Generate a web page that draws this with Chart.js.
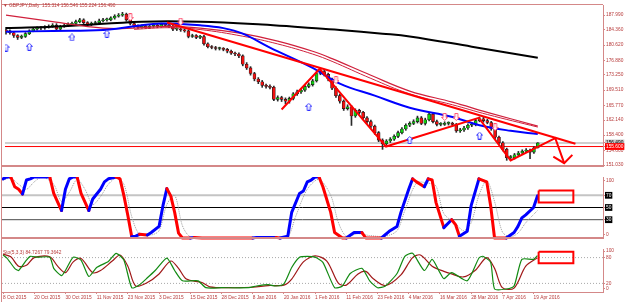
<!DOCTYPE html>
<html>
<head>
<meta charset="utf-8">
<title>GBPJPY Daily</title>
<script src="https://cdn.jsdelivr.net/npm/chart.js@4.4.1/dist/chart.umd.min.js"></script>
<style>
  body { margin: 0; background: #fff; }
  #wrap { position: relative; width: 625px; height: 302px; overflow: hidden; }
  canvas { position: absolute; left: 0; }
</style>
</head>
<body>
<div id="wrap">
  <canvas id="mainChart" width="625" height="177" style="top:0"></canvas>
  <canvas id="stochChart" width="625" height="71" style="top:177px"></canvas>
  <canvas id="stoChart" width="625" height="54" style="top:248px"></canvas>
</div>
<script>
// Data (bar index 0 = 8 Oct 2015, one bar per trading day)
const dateLabels = ['8 Oct 2015', '20 Oct 2015', '30 Oct 2015', '11 Nov 2015', '23 Nov 2015', '3 Dec 2015',
  '15 Dec 2015', '28 Dec 2015', '8 Jan 2016', '20 Jan 2016', '1 Feb 2016', '11 Feb 2016', '23 Feb 2016',
  '4 Mar 2016', '16 Mar 2016', '28 Mar 2016', '7 Apr 2016', '19 Apr 2016'];
const labelIdx = [0, 8, 16, 24, 32, 40, 48, 56, 64, 72, 80, 88, 96, 104, 112, 120, 128, 136];

const opens = [
  184.40,184.11,183.66,182.97,182.52,182.74,183.43,184.11,184.57,184.80,
  184.80,185.02,185.25,185.48,184.57,185.25,185.48,185.71,185.94,186.39,
  186.85,186.17,185.71,185.94,186.17,186.62,186.85,186.85,187.31,187.76,
  187.99,188.22,186.85,185.94,185.25,185.02,185.25,185.02,185.25,185.48,
  185.25,185.71,185.48,185.25,184.57,184.57,184.34,184.11,182.74,182.97,
  182.52,182.74,180.92,180.23,180.01,179.78,179.78,179.55,179.09,178.64,
  178.41,177.95,175.90,174.99,173.62,172.25,171.57,170.65,170.43,170.20,
  167.23,167.69,167.23,166.78,167.46,168.60,169.06,169.51,170.43,170.88,
  171.79,173.62,174.08,173.39,172.25,169.97,168.14,166.78,164.95,165.41,
  163.13,164.50,164.04,162.67,161.76,160.62,159.02,157.20,156.28,156.97,
  157.42,158.11,159.02,159.93,160.85,161.30,161.76,162.67,161.30,162.21,
  163.58,161.76,161.07,161.07,161.30,161.30,161.07,159.48,159.70,160.16,
  160.85,161.07,161.99,162.44,161.99,161.53,159.93,157.88,156.51,154.91,
  152.86,152.86,153.55,154.00,154.46,154.69,154.23,155.314];
const highs = [
  185.0,184.4,183.9,183.2,183.1,183.7,184.4,184.9,185.1,185.2,
  185.4,185.6,185.9,185.9,185.5,185.8,186.1,186.3,186.8,187.2,
  187.1,186.4,186.3,186.5,187.0,187.2,187.3,187.6,188.1,188.4,
  188.7,188.5,187.1,186.2,185.6,185.6,185.5,185.6,185.8,185.8,
  186.0,186.0,185.8,185.6,184.9,184.8,184.6,184.3,183.3,183.2,
  183.0,183.0,181.2,180.5,180.3,180.1,180.0,179.8,179.4,178.9,
  178.7,178.2,176.3,175.3,173.9,172.6,171.9,171.0,170.8,170.5,
  168.1,168.0,167.6,167.8,168.9,169.5,169.9,170.8,171.3,172.2,
  174.0,174.9,174.5,173.7,172.5,170.3,168.5,167.1,165.9,165.7,
  164.9,164.8,164.3,163.0,162.1,160.9,159.3,157.5,157.3,157.8,
  158.5,159.4,160.3,161.2,161.7,162.2,163.1,163.0,162.6,164.0,
  163.9,162.1,161.5,161.7,161.7,161.6,161.3,160.1,160.6,161.2,
  161.5,162.4,162.9,162.8,162.3,161.8,160.2,158.2,156.8,155.2,
  153.4,153.9,154.4,154.8,155.1,155.0,155.6,156.546];
const lows = [
  183.3,183.3,182.5,182.0,182.2,182.5,183.2,183.9,184.3,184.4,
  184.5,184.8,185.0,184.2,184.3,185.0,185.2,185.4,185.6,186.1,
  185.9,185.3,185.4,185.7,185.9,186.3,186.5,186.6,187.0,187.5,
  187.7,186.5,185.6,185.0,184.7,184.8,184.7,184.7,185.0,184.9,
  185.0,185.2,184.9,184.2,184.2,184.0,183.8,182.4,182.5,182.2,
  182.2,180.6,179.9,179.7,179.4,179.4,179.2,178.7,178.3,178.0,
  177.5,175.5,174.6,173.2,171.8,171.1,170.2,170.0,169.8,166.9,
  166.8,166.7,166.1,166.3,167.1,168.2,168.7,169.2,170.1,170.5,
  171.5,173.3,173.0,171.8,169.6,167.7,166.3,164.5,164.6,160.8,
  162.8,163.6,162.3,161.3,160.2,158.6,156.8,154.9,155.9,156.6,
  157.1,157.8,158.7,159.6,160.5,161.0,161.4,161.0,160.9,161.9,
  161.4,160.7,160.7,160.8,160.9,160.7,159.1,159.1,159.3,159.8,
  160.5,160.7,161.7,161.6,161.2,159.6,157.5,156.1,154.5,152.2,
  152.3,152.5,153.2,153.7,154.1,152.6,153.9,155.224];
const closes = [
  184.11,183.66,182.97,182.52,182.74,183.43,184.11,184.57,184.80,184.80,
  185.02,185.25,185.48,184.57,185.25,185.48,185.71,185.94,186.39,186.85,
  186.17,185.71,185.94,186.17,186.62,186.85,186.85,187.31,187.76,187.99,
  188.22,186.85,185.94,185.25,185.02,185.25,185.02,185.25,185.48,185.25,
  185.71,185.48,185.25,184.57,184.57,184.34,184.11,182.74,182.97,182.52,
  182.74,180.92,180.23,180.01,179.78,179.78,179.55,179.09,178.64,178.41,
  177.95,175.90,174.99,173.62,172.25,171.57,170.65,170.43,170.20,167.23,
  167.69,167.23,166.78,167.46,168.60,169.06,169.51,170.43,170.88,171.79,
  173.62,174.08,173.39,172.25,169.97,168.14,166.78,164.95,165.41,163.13,
  164.50,164.04,162.67,161.76,160.62,159.02,157.20,156.28,156.97,157.42,
  158.11,159.02,159.93,160.85,161.30,161.76,162.67,161.30,162.21,163.58,
  161.76,161.07,161.07,161.30,161.30,161.07,159.48,159.70,160.16,160.85,
  161.07,161.99,162.44,161.99,161.53,159.93,157.88,156.51,154.91,152.86,
  152.86,153.55,154.00,154.46,154.69,154.23,155.30,156.490];

const priceTicks = [187.99, 184.36, 180.62, 176.88, 173.25, 169.51, 165.77, 162.14, 158.40, 154.66, 151.03];
const bidPrice = 156.49;
const alertPrice = 155.60;

// moving averages, [bar, price]
const maBlack = [[0,184.80],[15,185.25],[35,186.39],[50,186.39],[66,185.71],[76,185.02],[86,184.34],[97,183.43],[104,182.74],[120,180.23],[137,177.50]];
const maBlue = [[0,183.88],[12,184.11],[25,184.34],[33,185.25],[40,185.94],[50,185.48],[56,184.80],[61,183.43],[68,180.00],[79,174.99],[86,171.11],[95,168.14],[104,165.18],[115,162.90],[122,160.85],[130,159.48],[137,158.70]];
const maRed1 = [[0,187.99],[12,186.39],[25,184.80],[33,184.80],[42,185.25],[50,184.80],[61,183.43],[70,181.60],[79,179.09],[84,177.27],[94,173.16],[104,169.28],[115,166.55],[124,164.04],[137,160.62]];
const maRed2 = [[33,184.50],[42,184.90],[50,184.45],[61,182.80],[70,180.90],[79,178.40],[84,176.60],[94,172.40],[104,168.60],[115,165.90],[124,163.50],[137,160.40]];

// drawn objects
const trendLine = [[41.5,186.17],[146.7,156.28]];
const zigzag = [[71,164.72],[80.8,174.76],[97.9,155.60],[121.8,162.67],[130,152.18],[141.5,157.65],[143.8,151.49]];
const arrowHead = [[141,153.09],[143.8,151.49],[145.9,153.55]];
const upArrows = [[0,180.0],[6,180.2],[17,182.5],[26,183.4],[78,165.4],[104,157.2],[122,158.3]];
const downArrows = [[32,187.5],[45,186.4],[85,172.0],[113,162.9],[116,162.9],[126,160.4]];

// stochastic pane 1 (thick line + signal), [bar, value]
const stochMain = [[0,97],[1,100],[2,100],[3,84],[4,80],[5,72],[6,95],[7,97],[8,100],[12,100],[13,73],[15,45],[16,80],[17,97],[18,100],[19,100],[20,73],[22,45],[23,64],[25,80],[26,92],[27,97],[29,100],[30,97],[31,69],[32,37],[33,2],[34,3],[35,6],[37,5],[38,9],[40,19],[41,53],[42,81],[43,69],[44,42],[45,8],[46,0],[48,0],[49,1],[51,0],[64,0],[65,1],[70,1],[71,0],[73,3],[74,42],[76,73],[77,77],[78,92],[79,95],[80,100],[81,100],[82,84],[84,42],[85,9],[87,0],[88,0],[90,9],[92,9],[93,0],[97,0],[99,11],[101,19],[102,42],[104,80],[105,97],[106,92],[108,84],[109,97],[110,95],[111,58],[113,17],[115,30],[116,22],[117,3],[119,11],[120,53],[122,97],[124,92],[125,53],[126,0],[129,0],[131,9],[132,19],[133,33],[134,38],[136,50],[137,69]];
const stochSignal = [[0,95],[2,98],[4,88],[6,80],[8,92],[10,100],[13,88],[15,60],[17,75],[19,96],[21,80],[23,55],[25,68],[27,88],[29,98],[31,88],[33,35],[35,6],[38,5],[40,12],[42,55],[44,70],[46,20],[48,2],[52,0],[70,0],[73,2],[75,35],[78,80],[81,96],[84,70],[86,25],[88,3],[91,7],[94,4],[98,3],[101,12],[103,45],[106,90],[109,90],[111,85],[113,40],[116,24],[118,12],[120,25],[122,70],[124,94],[126,60],[128,10],[130,2],[132,8],[134,25],[137,45]];
const stochLevels = [70, 50, 30];
const stochTicks = [94.5, 70, 50, 30, 5.5];
const stochTickText = ['100', '70', '50', '30', '0'];
const stochBox = [[137.3,77.9],[146.2,77.9],[146.2,58.2],[137.3,58.2],[137.3,77.9]];

// Sto(5,3,3) pane
const stoMain = [[0,86],[1,79],[3,55],[4,50],[6,74],[7,83],[9,81],[12,81],[13,55],[15,38],[16,50],[18,81],[20,74],[22,36],[24,57],[27,71],[29,90],[31,74],[33,10],[35,17],[37,33],[39,50],[42,79],[44,50],[46,26],[50,26],[52,10],[56,10],[63,10],[65,14],[68,17],[70,14],[72,19],[74,57],[76,81],[78,83],[80,81],[82,69],[85,10],[87,14],[89,43],[92,55],[94,26],[96,10],[98,14],[101,43],[103,83],[105,90],[108,50],[110,76],[112,45],[113,31],[115,45],[119,26],[122,79],[123,83],[125,69],[126,7],[129,7],[131,14],[133,76],[136,76],[137,84.73]];
const stoSignal = [[0,88],[2,82],[4,60],[6,62],[8,80],[12,82],[14,60],[16,45],[18,70],[20,78],[23,45],[25,50],[28,72],[30,86],[32,60],[34,14],[37,22],[40,42],[43,72],[45,55],[47,30],[51,22],[53,12],[58,10],[64,11],[68,15],[72,16],[74,30],[77,70],[80,84],[83,72],[86,20],[88,16],[91,42],[93,48],[95,30],[98,15],[102,40],[105,80],[107,86],[110,60],[113,48],[115,42],[118,35],[121,50],[124,80],[126,55],[128,10],[131,9],[134,60],[137,79.36]];
const stoLevels = [80, 20];
const stoTicks = [95, 80, 20, 8];
const stoTickText = ['100', '80', '20', '0'];
const stoBox = [[137.3,93.7],[146.2,93.7],[146.2,66.7],[137.3,66.7],[137.3,93.7]];

// Look
const X_MIN = -0.26, X_MAX = 153.8;
const FRAME = '#d48888';
const TEXT = '#b83c3c';
Chart.defaults.font.family = '"Liberation Sans", Arial, sans-serif';
Chart.defaults.font.size = 4.8;
Chart.defaults.animation = false;

const pts = arr => arr.map(p => ({ x: p[0], y: p[1] }));
const flat = v => [{ x: X_MIN, y: v }, { x: X_MAX, y: v }];
const line = (data, color, width, extra) => Object.assign({
  type: 'line', data: pts(data), borderColor: color, borderWidth: width,
  pointRadius: 0, tension: 0, fill: false
}, extra || {});

function arrowImage(color, up) {
  const c = document.createElement('canvas');
  c.width = 7; c.height = 8;
  const g = c.getContext('2d');
  g.translate(0, up ? 0 : 8); g.scale(1, up ? 1 : -1);
  g.beginPath();
  g.moveTo(3.5, 0.5); g.lineTo(6.5, 3.5); g.lineTo(5, 3.5); g.lineTo(5, 7.5);
  g.lineTo(2, 7.5); g.lineTo(2, 3.5); g.lineTo(0.5, 3.5); g.closePath();
  g.fillStyle = '#fff'; g.fill();
  g.strokeStyle = color; g.lineWidth = 1; g.stroke();
  return c;
}

const framePlugin = {
  id: 'frame',
  afterDraw(chart, args, opts) {
    const { ctx, chartArea: a } = chart;
    ctx.save();
    ctx.strokeStyle = FRAME;
    ctx.lineWidth = 1;
    ctx.beginPath();
    ctx.moveTo(1.5, 0); ctx.lineTo(1.5, chart.height);
    if (opts.top) { ctx.moveTo(1, a.top - 0.5); ctx.lineTo(a.right, a.top - 0.5); }
    ctx.stroke();
    if (opts.bottom) {
      ctx.lineWidth = 2;
      ctx.beginPath();
      ctx.moveTo(1, a.bottom); ctx.lineTo(a.right, a.bottom);
      ctx.stroke();
    }
    if (opts.text) {
      ctx.fillStyle = opts.textColor || TEXT;
      ctx.font = '4.8px "Liberation Sans", Arial, sans-serif';
      ctx.textBaseline = 'middle';
      ctx.fillText(opts.text, opts.tx, opts.ty);
    }
    ctx.restore();
  }
};

function xScale(show) {
  return {
    type: 'linear', min: X_MIN, max: X_MAX, display: show, offset: false,
    afterBuildTicks: s => { s.ticks = labelIdx.map(v => ({ value: v })); },
    afterFit: s => { s.height = 10; s.paddingLeft = 0; s.paddingRight = 0; },
    ticks: {
      autoSkip: false, maxRotation: 0, align: 'start', padding: 1, color: TEXT,
      callback: v => dateLabels[labelIdx.indexOf(v)]
    },
    grid: { drawOnChartArea: false, tickLength: 2, color: FRAME },
    border: { color: FRAME }
  };
}

function yScale(min, max, ticks, label, backdrop, tcolor) {
  return {
    position: 'right', min: min, max: max,
    afterBuildTicks: s => { s.ticks = ticks.map(v => ({ value: v })); },
    afterFit: s => { s.width = 22; s.paddingTop = 0; s.paddingBottom = 0; },
    ticks: {
      autoSkip: false, padding: 1, callback: label,
      color: ctx => tcolor(ctx.tick.value),
      showLabelBackdrop: true,
      backdropColor: ctx => backdrop(ctx.tick.value),
      backdropPadding: { x: 1, y: 0.5 }
    },
    grid: { drawOnChartArea: false, tickLength: 2, color: FRAME },
    border: { color: FRAME }
  };
}

const baseOpts = {
  responsive: false,
  events: [],
  plugins: { legend: { display: false }, tooltip: { enabled: false } }
};

// ---- price pane ----
const mainTicks = priceTicks.concat([bidPrice, alertPrice]);
new Chart(document.getElementById('mainChart'), {
  type: 'bar',
  data: {
    datasets: [
      { type: 'line', data: flat(bidPrice), borderColor: '#cfcfcf', borderWidth: 2, pointRadius: 0, order: 20 },
      { type: 'line', data: flat(alertPrice), borderColor: '#ff0000', borderWidth: 1, pointRadius: 0, order: 19 },
      {
        data: closes.map((c, i) => ({ x: i, y: [lows[i], highs[i]] })),
        backgroundColor: '#2a2a2a', barThickness: 1, grouped: false, order: 15
      },
      {
        data: closes.map((c, i) => ({ x: i, y: [opens[i], c] })),
        backgroundColor: closes.map((c, i) => c >= opens[i] ? '#10d010' : '#ee1010'),
        borderColor: '#1a1a1a', borderWidth: { left: 0.6, right: 0.6, top: 0.6, bottom: 0.6 },
        borderSkipped: false, barThickness: 3, minBarLength: 1,
        grouped: false, order: 14
      },
      line(maBlack, '#000000', 2, { tension: 0.4, order: 9 }),
      line(maRed2, '#d0203c', 1, { tension: 0.4, order: 8 }),
      line(maRed1, '#d0203c', 1.2, { tension: 0.4, order: 7 }),
      line(maBlue, '#0000ff', 2, { tension: 0.4, order: 6 }),
      line(trendLine, '#ff0000', 2, { order: 4 }),
      line(zigzag, '#ff0000', 2, { order: 3 }),
      line(arrowHead, '#ff0000', 2, { order: 3 }),
      { type: 'line', data: pts(upArrows), showLine: false, pointStyle: arrowImage('#3030ff', true), order: 2 },
      { type: 'line', data: pts(downArrows), showLine: false, pointStyle: arrowImage('#ff5070', false), order: 2 }
    ]
  },
  options: Object.assign({}, baseOpts, {
    layout: { padding: { left: 2, top: 2, bottom: 1, right: 0 } },
    scales: {
      x: xScale(false),
      y: yScale(150.80, 190.50, mainTicks, v => v.toFixed(3),
        v => v === bidPrice ? '#c8c8c8' : (v === alertPrice ? '#ff0000' : 'rgba(0,0,0,0)'),
        v => v === bidPrice ? '#000000' : (v === alertPrice ? '#ffffff' : TEXT))
    },
    plugins: Object.assign({}, baseOpts.plugins, {
      frame: { top: true, bottom: true, text: '\u25BC GBPJPY,Daily  155.314 156.546 155.224 156.490', tx: 3, ty: 6 }
    })
  }),
  plugins: [framePlugin]
});

// ---- stochastic pane ----
const segColors = [];
let lastColor = '#0000ff';
for (let k = 0; k < stochMain.length - 1; k++) {
  const d = stochMain[k + 1][1] - stochMain[k][1];
  if (d > 0) lastColor = '#0000ff';
  else if (d < 0) lastColor = '#ff0000';
  segColors.push(lastColor);
}
const levelStyle = { 70: ['#c4c4c4', 2], 50: ['#000000', 1], 30: ['#4a4a4a', 1] };
new Chart(document.getElementById('stochChart'), {
  type: 'line',
  data: {
    datasets: stochLevels.map(v => ({
      data: flat(v), borderColor: levelStyle[v][0], borderWidth: levelStyle[v][1], pointRadius: 0, order: 10
    })).concat([
      line(stochSignal, '#9a9a9a', 1, { borderDash: [1, 1], tension: 0.3, order: 5 }),
      line(stochMain, '#0000ff', 3, {
        order: 2, clip: 4, borderCapStyle: 'round', borderJoinStyle: 'round',
        segment: { borderColor: ctx => segColors[ctx.p0DataIndex] }
      }),
      line(stochBox, '#ff0000', 2, { order: 1, clip: false })
    ])
  },
  options: Object.assign({}, baseOpts, {
    layout: { padding: { left: 2, top: 0, bottom: 0, right: 0 } },
    scales: {
      x: xScale(false),
      y: yScale(0, 100, stochTicks, (v, i) => stochTickText[i],
        v => stochLevels.includes(v) ? '#000000' : 'rgba(0,0,0,0)',
        v => stochLevels.includes(v) ? '#ffffff' : TEXT)
    },
    plugins: Object.assign({}, baseOpts.plugins, { frame: { bottom: true } })
  }),
  plugins: [framePlugin]
});

// ---- Sto(5,3,3) pane ----
new Chart(document.getElementById('stoChart'), {
  type: 'line',
  data: {
    datasets: stoLevels.map(v => ({
      data: flat(v), borderColor: '#a8a8a8', borderWidth: 1, borderDash: [1, 2], pointRadius: 0, order: 10
    })).concat([
      line(stoSignal, '#a01818', 1.2, { tension: 0.3, order: 3 }),
      line(stoMain, '#128a12', 1.2, { tension: 0.2, order: 2 }),
      line(stoBox, '#ff0000', 2, { order: 1, clip: false })
    ])
  },
  options: Object.assign({}, baseOpts, {
    layout: { padding: { left: 2, top: 1, bottom: 0, right: 0 } },
    scales: {
      x: xScale(true),
      y: yScale(0, 100, stoTicks, (v, i) => stoTickText[i], () => 'rgba(0,0,0,0)', () => TEXT)
    },
    plugins: Object.assign({}, baseOpts.plugins, {
      frame: { bottom: false, text: 'Sto(5,3,3) 84.7267 79.3642', tx: 3, ty: 4.5 }
    })
  }),
  plugins: [framePlugin]
});
</script>
</body>
</html>
